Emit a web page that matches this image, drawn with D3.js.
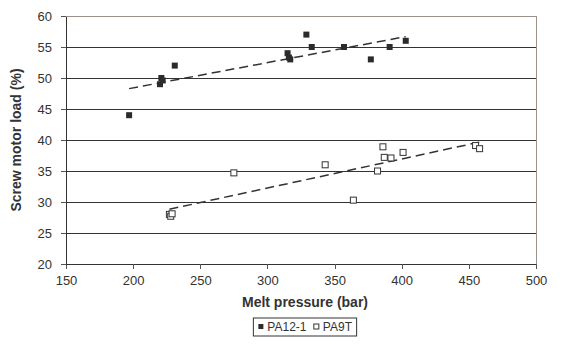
<!DOCTYPE html>
<html>
<head>
<meta charset="utf-8">
<script src="https://cdn.jsdelivr.net/npm/d3@7"></script>
<style>
  body { margin: 0; background: #fff; }
  svg text { font-family: "Liberation Sans", Arial, sans-serif; fill: #333; }
</style>
</head>
<body>
<div id="chart"></div>
<script>
// PA12-1 series (filled squares)
const pa12Pressure = [197, 220, 221, 222, 231, 315, 316, 317, 329, 333, 357, 377, 391, 403];
const pa12Load = [44, 49, 50, 49.6, 52, 54, 53.3, 53, 57, 55, 55, 53, 55, 56];

// PA9T series (open squares)
const pa9tPressure = [227, 228, 229, 275, 343, 364, 382, 386, 387, 392, 401, 455, 458];
const pa9tLoad = [28, 27.7, 28.1, 34.7, 36, 30.3, 35, 38.9, 37.2, 37.1, 38, 39.1, 38.6];

const xTicks = [150, 200, 250, 300, 350, 400, 450, 500];
const yTicks = [20, 25, 30, 35, 40, 45, 50, 55, 60];
const seriesNames = ["PA12-1", "PA9T"];

const W = 582, H = 358;
const margin = { top: 16, right: 46, bottom: 94, left: 66 };
const width = W - margin.left - margin.right;
const height = H - margin.top - margin.bottom;

const svg = d3.select("#chart").append("svg")
    .attr("width", W)
    .attr("height", H);

const g = svg.append("g")
    .attr("transform", `translate(${margin.left},${margin.top})`);

const x = d3.scaleLinear().domain([150, 500]).range([0, width]);
const y = d3.scaleLinear().domain([20, 60]).range([height, 0]);

// Gridlines
g.append("g")
    .selectAll("line")
    .data(yTicks.slice(1, -1))
    .join("line")
    .attr("x1", 0).attr("x2", width)
    .attr("y1", d => y(d)).attr("y2", d => y(d))
    .attr("stroke", "#333")
    .attr("stroke-width", 1)
    .attr("shape-rendering", "crispEdges");

// Plot area border
g.append("rect")
    .attr("width", width)
    .attr("height", height)
    .attr("fill", "none")
    .attr("stroke", "#9a918c")
    .attr("shape-rendering", "crispEdges");

// Axes
const xAxis = g.append("g")
    .attr("transform", `translate(0,${height})`)
    .call(d3.axisBottom(x).tickValues(xTicks).tickSize(5).tickPadding(7).tickSizeOuter(0));

const yAxis = g.append("g")
    .call(d3.axisLeft(y).tickValues(yTicks).tickSize(5).tickPadding(9).tickSizeOuter(0));

[xAxis, yAxis].forEach(a => {
    a.select(".domain").attr("stroke", "#333").attr("shape-rendering", "crispEdges");
    a.selectAll(".tick line").attr("stroke", "#555").attr("shape-rendering", "crispEdges");
    a.selectAll(".tick text").attr("font-size", 13).style("fill", "#333");
});

// Linear trendlines (least squares)
function trend(xs, ys) {
    const mx = d3.mean(xs), my = d3.mean(ys);
    const sxy = d3.sum(xs, (v, i) => (v - mx) * (ys[i] - my));
    const sxx = d3.sum(xs, v => (v - mx) * (v - mx));
    const b = sxy / sxx, a = my - b * mx;
    const [x0, x1] = d3.extent(xs);
    return [[x0, a + b * x0], [x1, a + b * x1]];
}

const line = d3.line().x(d => x(d[0])).y(d => y(d[1]));

[[pa12Pressure, pa12Load], [pa9tPressure, pa9tLoad]].forEach(([xs, ys]) => {
    g.append("path")
        .datum(trend(xs, ys))
        .attr("fill", "none")
        .attr("stroke", "#333")
        .attr("stroke-width", 1.5)
        .attr("stroke-dasharray", "9 5")
        .attr("d", line);
});

// Markers
const s = 6;
g.append("g")
    .selectAll("rect")
    .data(pa12Pressure.map((p, i) => [p, pa12Load[i]]))
    .join("rect")
    .attr("x", d => x(d[0]) - s / 2)
    .attr("y", d => y(d[1]) - s / 2)
    .attr("width", s).attr("height", s)
    .attr("fill", "#2b2b2b");

g.append("g")
    .selectAll("rect")
    .data(pa9tPressure.map((p, i) => [p, pa9tLoad[i]]))
    .join("rect")
    .attr("x", d => x(d[0]) - s / 2)
    .attr("y", d => y(d[1]) - s / 2)
    .attr("width", s).attr("height", s)
    .attr("fill", "#fff")
    .attr("stroke", "#333")
    .attr("stroke-width", 1);

// Axis titles
const cx = 305;
svg.append("text")
    .attr("x", cx)
    .attr("y", 307)
    .attr("text-anchor", "middle")
    .attr("font-size", 14)
    .attr("font-weight", "bold")
    .text("Melt pressure (bar)");

svg.append("text")
    .attr("transform", `translate(21,${margin.top + height / 2}) rotate(-90)`)
    .attr("text-anchor", "middle")
    .attr("font-size", 14)
    .attr("font-weight", "bold")
    .text("Screw motor load (%)");

// Legend
const legend = svg.append("g");
const items = legend.selectAll("g")
    .data(seriesNames)
    .join("g");

items.append("rect")
    .attr("y", -3).attr("width", 5).attr("height", 5)
    .attr("fill", (d, i) => i === 0 ? "#2b2b2b" : "#fff")
    .attr("stroke", (d, i) => i === 0 ? "none" : "#333");

items.append("text")
    .attr("x", 9)
    .attr("y", 4)
    .attr("font-size", 12)
    .text(d => d);

let off = 5;
items.each(function () {
    const bw = this.getBBox().width;
    d3.select(this).attr("transform", `translate(${off},0)`);
    off += bw + 7;
});
const lw = off - 3;
legend.attr("transform", `translate(${cx - lw / 2},${327})`);
legend.insert("rect", ":first-child")
    .attr("x", 0).attr("y", -9)
    .attr("width", lw).attr("height", 18)
    .attr("fill", "#fff")
    .attr("stroke", "#333");
</script>
</body>
</html>
